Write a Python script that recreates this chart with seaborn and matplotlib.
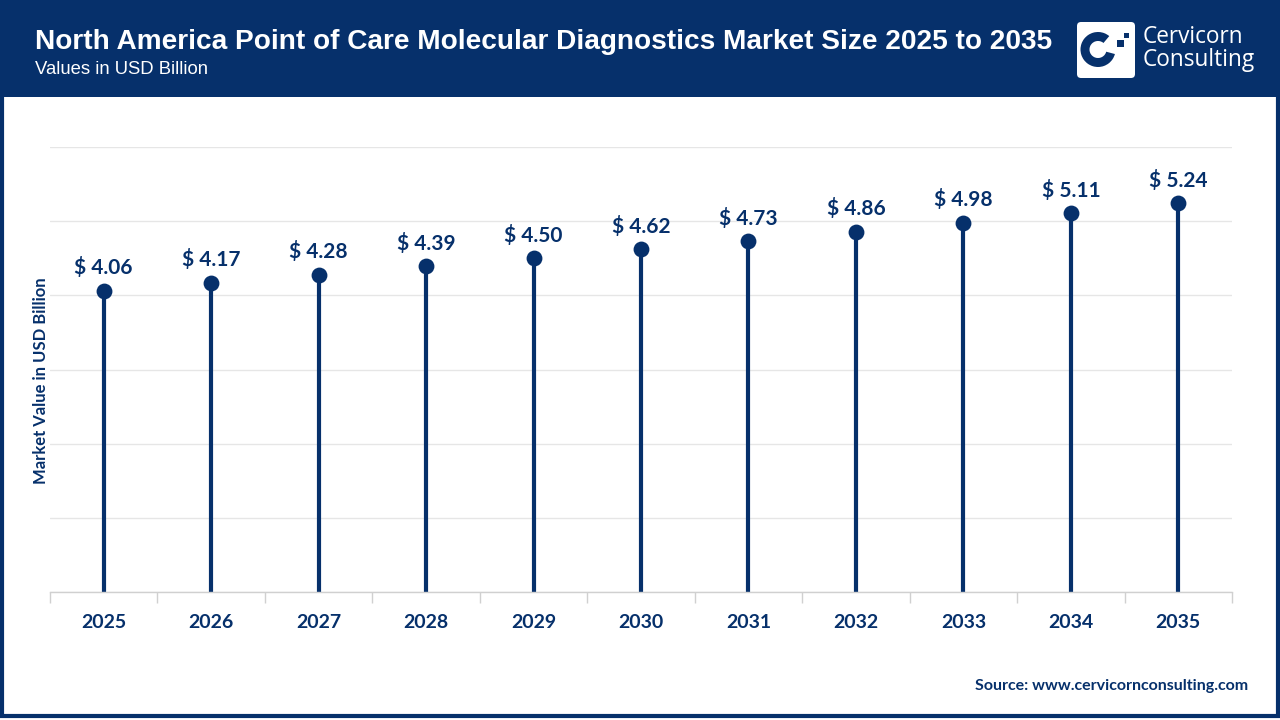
import matplotlib
matplotlib.use("Agg")
import matplotlib.pyplot as plt
import seaborn as sns
import numpy as np
import pandas as pd
from matplotlib.patches import Rectangle, FancyBboxPatch, Wedge

years = ["2025", "2026", "2027", "2028", "2029", "2030", "2031", "2032", "2033", "2034", "2035"]
values = [4.06, 4.17, 4.28, 4.39, 4.50, 4.62, 4.73, 4.86, 4.98, 5.11, 5.24]
y_ticks = [0, 1, 2, 3, 4, 5, 6]

title = "North America Point of Care Molecular Diagnostics Market Size 2025 to 2035"
subtitle = "Values in USD Billion"
y_label = "Market Value in USD Billion"
source = "Source: www.cervicornconsulting.com"

NAVY = "#06306b"
sns.set_theme(style="white")
plt.rcParams['font.family'] = ['Lato', 'DejaVu Sans']

df = pd.DataFrame({"year": years, "value": values, "pos": np.arange(len(years))})

fig = plt.figure(figsize=(12.8, 7.2), dpi=100)
W, H = 1280, 720

def fx(px):
    return px / W

def fy(py):
    return 1 - py / H

# header band
fig.patches.append(Rectangle((0, fy(97)), 1, 97 / H, transform=fig.transFigure,
                             facecolor=NAVY, edgecolor="none", zorder=0))
# outer border
fig.patches.append(Rectangle((fx(2), fy(716)), fx(1276), (716 - 2) / H, transform=fig.transFigure,
                             facecolor="none", edgecolor=NAVY, linewidth=3, zorder=5))

fig.text(fx(35), fy(42), title, color="white", fontsize=20.2, fontweight="bold",
         family=["Liberation Sans", "DejaVu Sans"], va="center", ha="left")
fig.text(fx(35), fy(70), subtitle, color="white", fontsize=13.3,
         family=["Liberation Sans", "DejaVu Sans"], va="center", ha="left")

# logo
lax = fig.add_axes([fx(1077), fy(78), fx(58), 56 / H])
lax.set_zorder(3)
lax.set_xlim(0, 58)
lax.set_ylim(0, 56)
lax.axis("off")
lax.add_patch(FancyBboxPatch((0, 0), 58, 56, boxstyle="round,pad=0,rounding_size=4",
                             facecolor="white", edgecolor="none"))
lax.add_patch(Wedge((21, 28.5), 17.5, 50, 345, width=9, facecolor=NAVY, edgecolor="none"))
lax.add_patch(Rectangle((40, 31), 7, 7, facecolor=NAVY, edgecolor="none"))
lax.add_patch(Rectangle((47, 40), 5, 5, facecolor=NAVY, edgecolor="none"))
fig.text(fx(1143), fy(37), "Cervicorn", color="white", fontsize=16.3,
         family=["Open Sans", "DejaVu Sans"], va="center", ha="left")
fig.text(fx(1143), fy(60), "Consulting", color="white", fontsize=16.3,
         family=["Open Sans", "DejaVu Sans"], va="center", ha="left")

# main axes
ax = fig.add_axes([fx(50), fy(592), fx(1232 - 50), (592 - 147) / H])
ax.vlines(df["pos"], 0, df["value"], color=NAVY, linewidth=3, zorder=2)
sns.scatterplot(data=df, x="pos", y="value", ax=ax, color=NAVY, s=130,
                edgecolor=NAVY, linewidth=0, zorder=3, legend=False)
for p, v in zip(df["pos"], df["value"]):
    ax.annotate(f"$ {v:.2f}", (p, v), xytext=(0, 9), textcoords="offset points",
                ha="center", va="bottom", color=NAVY, fontsize=15, fontweight="bold")

ax.set_xlim(-0.5, len(years) - 0.5)
ax.set_ylim(0, 6)
ax.set_yticks(y_ticks)
ax.set_yticklabels([])
ax.tick_params(axis="y", length=0)
ax.grid(axis="y", color="#e6e6e6", linewidth=1)
ax.set_axisbelow(True)
ax.set_xticks(df["pos"])
ax.set_xticklabels(years, fontsize=14, fontweight="bold", color=NAVY)
ax.set_xticks(np.arange(-0.5, len(years), 1), minor=True)
ax.tick_params(axis="x", which="major", length=0, pad=16)
ax.tick_params(axis="x", which="minor", length=8, color="#d0d0d0", width=1, direction="out", bottom=True)
for s in ["top", "right", "left"]:
    ax.spines[s].set_visible(False)
ax.spines["bottom"].set_color("#d0d0d0")
ax.spines["bottom"].set_linewidth(1)
ax.set_xlabel("")
ax.set_ylabel("")

fig.text(fx(41), fy(381), y_label, rotation=90, color=NAVY, fontsize=12,
         fontweight="bold", va="center", ha="center")
fig.text(fx(1248), fy(686), source, color=NAVY, fontsize=11.5, fontweight="bold",
         va="center", ha="right")

fig.savefig("out.png", dpi=100)
